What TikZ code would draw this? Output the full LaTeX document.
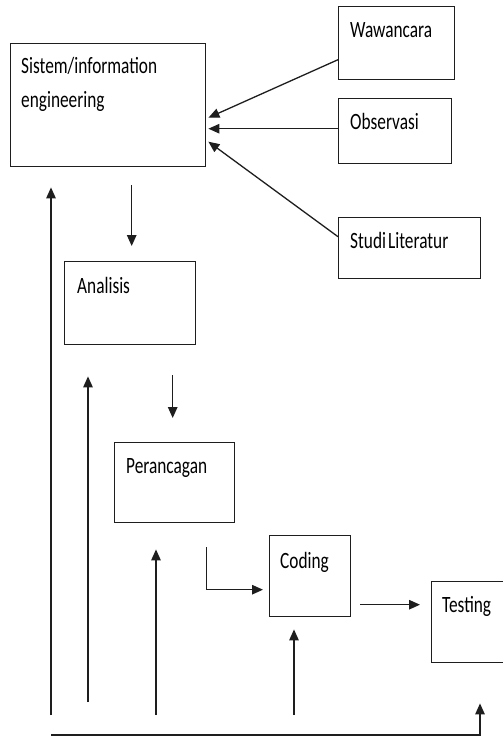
\documentclass[tikz,border=0pt]{standalone}
\usepackage{fontspec}
\setmainfont{Carlito}
\usetikzlibrary{arrows.meta}
\definecolor{ln}{RGB}{30,30,30}
\tikzset{
  boxnode/.style={draw=ln, line width=1.4pt, minimum width=#1, inner sep=0pt, anchor=north west},
  lbl/.style={anchor=base west, inner sep=0pt, font=\fontsize{17.3}{20}\selectfont},
  arr/.style={draw=ln, line width=1.3pt, -{Triangle[length=11pt,width=9.5pt]}}
}
\newcommand{\tx}[1]{\scalebox{1}[1.35]{#1}}
\begin{document}
\begin{tikzpicture}[x=1pt,y=-1pt]
\useasboundingbox (0,0) rectangle (503,736);
% boxes
\node[boxnode=195pt, minimum height=123pt] (sis) at (10,43) {};
\node[boxnode=116pt, minimum height=73pt] (waw) at (338,6) {};
\node[boxnode=113pt, minimum height=65pt] (obs) at (338,98) {};
\node[boxnode=142pt, minimum height=61pt] (stu) at (338,217) {};
\node[boxnode=131pt, minimum height=83pt] (ana) at (64,261) {};
\node[boxnode=120pt, minimum height=80pt] (per) at (114,442) {};
\node[boxnode=81pt, minimum height=81pt] (cod) at (269,535) {};
\node[boxnode=72pt, minimum height=81pt] (tes) at (431,581) {};
% labels
\node[lbl] (sisT1) at (21,73) {\tx{Sistem/information}};
\node[lbl] (sisT2) at (21,107) {\tx{engineering}};
\node[lbl] (wawT) at (350,37) {\tx{Wawancara}};
\node[lbl] (obsT) at (350,129) {\tx{Observasi}};
\node[lbl] (stuT) at (350,248) {\tx{Studi\hspace{0.12em}Literatur}};
\node[lbl] (anaT) at (77,293) {\tx{Analisis}};
\node[lbl] (perT) at (126,473) {\tx{Perancagan}};
\node[lbl] (codT) at (280,568) {\tx{Coding}};
\node[lbl] (tesT) at (442,612) {\tx{Testing}};
% inputs to sistem
\draw[arr] ([yshift=-16.5pt]waw.west) -- ([xshift=2pt,yshift=-12.5pt]sis.east);
\draw[arr] ([yshift=2.5pt]obs.west) -- ([xshift=2pt,yshift=-23.5pt]sis.east);
\draw[arr] ([yshift=11.5pt]stu.west) -- ([xshift=2pt,yshift=-36.5pt]sis.east);
% forward flow
\draw[arr] ([xshift=1.5pt,yshift=76pt]ana.north) -- ([xshift=1.5pt,yshift=15pt]ana.north);
\draw[arr] ([xshift=-2pt,yshift=67pt]per.north) -- ([xshift=-2pt,yshift=24pt]per.north);
\draw[arr] ([xshift=32pt,yshift=-24pt]per.south) |- ([xshift=-6pt,yshift=-13.5pt]cod.west);
\draw[arr] ([xshift=9pt,yshift=-28.5pt]cod.east) -- ([xshift=-11pt,yshift=17.5pt]tes.west);
% feedback
\coordinate (f1) at (51,715);
\coordinate (f2) at (88,702);
\coordinate (f3) at (156,715);
\coordinate (f4) at (294,715);
\coordinate (b0) at (51,735);
\draw[arr] (f1) -- ([xshift=41pt,yshift=-20pt]sis.south west);
\draw[arr] (f2) -- ([xshift=24pt,yshift=-31pt]ana.south west);
\draw[arr] (f3) -- ([xshift=42pt,yshift=-26pt]per.south west);
\draw[arr] (f4) -- ([xshift=25pt,yshift=-12pt]cod.south west);
\draw[arr] (b0) -| ([xshift=49pt,yshift=-40pt]tes.south west);
\end{tikzpicture}
\end{document}
